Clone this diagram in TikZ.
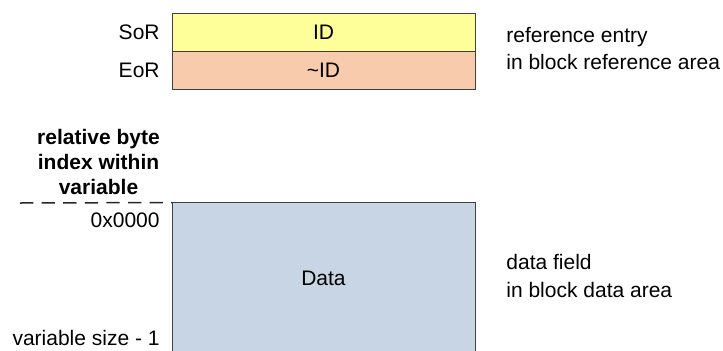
\documentclass[tikz,border=0pt]{standalone}
\usepackage{fontspec}
\setmainfont{Liberation Sans}
\usetikzlibrary{positioning}
\definecolor{idyellow}{HTML}{FFFF99}
\definecolor{idpeach}{HTML}{F8CBAD}
\definecolor{datablue}{HTML}{C8D5E5}
\definecolor{edgegray}{HTML}{404040}

\begin{document}
\begin{tikzpicture}[x=0.5pt,y=0.5pt,
		every node/.style={font=\fontsize{10.5}{14}\selectfont,inner sep=0pt},
		field/.style={draw=edgegray,line width=0.5pt,outer sep=0pt,minimum width=151.5pt,minimum height=19pt},
		note/.style={align=left,yshift=1.5pt}]
			\useasboundingbox (0,0) rectangle (723,350);
			\clip (0,0) rectangle (723,350);
			\node[field,fill=idyellow] (id) at (323.5,317.5) {ID};
			\node[field,fill=idpeach,below=0pt of id] (nid) {\textasciitilde ID};
			\node[field,fill=datablue,minimum height=76pt,anchor=north] (data) at (323.5,147.5) {Data};
			\node[left=6pt of id] (sor) {SoR};
			\node[left=6pt of nid] (eor) {EoR};
			\node[below left=5pt and 6pt of data.north west] (first) {0x0000};
			\node[below left=25.5pt and 6pt of data.west] (last) {variable size - 1};
			\node[note,right=15.5pt of id.south east] (refnote) {reference entry\\in block reference area};
			\node[note,right=15.5pt of data] (datanote) {data field\\in block data area};
			\coordinate (dashstart) at (20,147);
			\draw[black!85,line width=0.75pt,dash pattern=on 6.65pt off 4.15pt] (dashstart) -- (data.north west);
			\node[font=\bfseries\fontsize{10.5}{12.5}\selectfont,align=center,anchor=south] (idxhead) at (98.5,155) {relative byte\\index within\\variable};
		\end{tikzpicture}
\end{document}
